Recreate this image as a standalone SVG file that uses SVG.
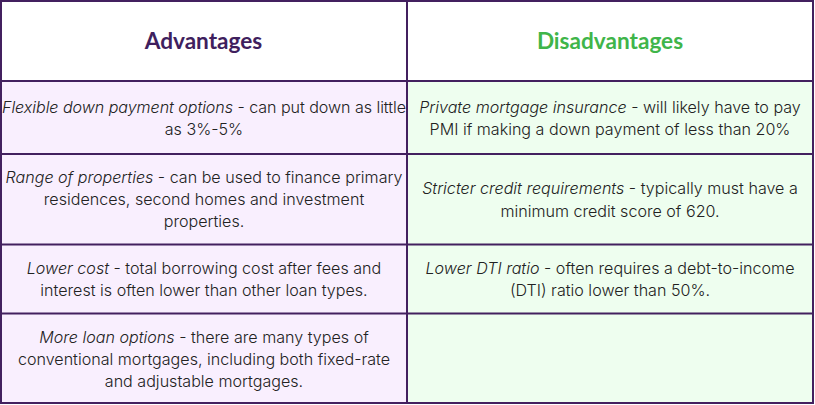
<svg xmlns="http://www.w3.org/2000/svg" width="815" height="405" viewBox="0 0 815 405">
<style>
.t{font-family:"Inter","Lato",sans-serif;font-size:16.1px;font-weight:300;fill:#222;text-anchor:middle}
.h{font-family:"Lato","Noto Sans",sans-serif;font-size:22.6px;font-weight:700;text-anchor:middle}
.l{fill:none;stroke:#43205f;stroke-width:2}
.i{font-style:italic}
</style>
<rect width="815" height="405" fill="#fff"/>
<g id="cells">
<rect x="1" y="81" width="406" height="322" fill="#f9effe"/>
<rect x="407" y="81" width="406" height="322" fill="#eefeef"/>
</g>
<g id="grid">
<rect class="l" x="1" y="1" width="812" height="402"/>
<path class="l" d="M407 1V403M1 81H813M1 154H813M1 244.500H813M1 313.500H813"/>
</g>
<g id="header-advantages"><text class="h" x="203.500" y="48.500" fill="#3f1f5e">Advantages</text></g>
<g id="header-disadvantages"><text class="h" x="610" y="48.500" fill="#3fb54a">Disadvantages</text></g>
<g id="row1-left"><text class="t" x="204" y="112.500" textLength="404"><tspan class="i">Flexible down payment options</tspan> - can put down as little</text><text class="t" x="204" y="135">as 3%-5%</text></g>
<g id="row1-right"><text class="t" x="610" y="112.500"><tspan class="i">Private mortgage insurance</tspan> - will likely have to pay</text><text class="t" x="610" y="135">PMI if making a down payment of less than 20%</text></g>
<g id="row2-left"><text class="t" x="204" y="182.500"><tspan class="i">Range of properties</tspan> - can be used to finance primary</text><text class="t" x="204" y="205">residences, second homes and investment</text><text class="t" x="204" y="227">properties.</text></g>
<g id="row2-right"><text class="t" x="610" y="194"><tspan class="i">Stricter credit requirements</tspan> - typically must have a</text><text class="t" x="610" y="216.500">minimum credit score of 620.</text></g>
<g id="row3-left"><text class="t" x="204" y="273.500"><tspan class="i">Lower cost</tspan> - total borrowing cost after fees and</text><text class="t" x="204" y="296">interest is often lower than other loan types.</text></g>
<g id="row3-right"><text class="t" x="610" y="273.500"><tspan class="i">Lower DTI ratio</tspan> - often requires a debt-to-income</text><text class="t" x="610" y="296">(DTI) ratio lower than 50%.</text></g>
<g id="row4-left"><text class="t" x="204" y="342.500"><tspan class="i">More loan options</tspan> - there are many types of</text><text class="t" x="204" y="364.500">conventional mortgages, including both fixed-rate</text><text class="t" x="204" y="386.500">and adjustable mortgages.</text></g>
</svg>
